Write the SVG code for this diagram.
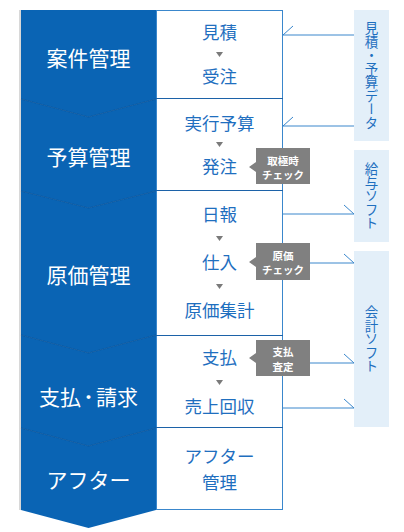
<svg xmlns="http://www.w3.org/2000/svg" width="404" height="532" viewBox="0 0 404 532">
<defs>
<style>
.sec{fill:#0a64b4}
.seam{fill:none;stroke:#08539a;stroke-width:1.2;stroke-opacity:0.8}
.lbl{font-family:"Noto Sans CJK JP","Noto Sans",sans-serif;font-size:21px;fill:#ffffff;text-anchor:middle}
.box{fill:#ffffff;stroke:#3a87cc;stroke-width:1}
.div{stroke:#1c62a8;stroke-width:1.2}
.itm{font-family:"Noto Sans CJK JP","Noto Sans",sans-serif;font-size:17.5px;fill:#1f6fbf;text-anchor:middle}
.tri{fill:#7a7a7a}
.tag{fill:#808080}
.tagt{font-family:"Noto Sans CJK JP","Noto Sans",sans-serif;font-size:10.5px;font-weight:bold;fill:#ffffff;text-anchor:middle}
.ext{fill:#e3eff9}
.extt{font-family:"Noto Sans CJK JP","Noto Sans",sans-serif;font-size:13.5px;fill:#1f6fbf;text-anchor:middle;writing-mode:vertical-rl}
.con{fill:none;stroke:#3a87cc;stroke-width:1}
</style>
</defs>
<rect width="404" height="532" fill="#ffffff"/>
<g id="shadow"><rect x="19" y="10" width="2" height="500" fill="#d8d8d8"/></g>
<g id="stage-anken"><polygon class="sec" points="21,10 156,10 156,99 88.5,117 21,99"/><text class="lbl" x="88.5" y="66">案件管理</text></g>
<g id="stage-yosan"><polygon class="sec" points="21,99 88.5,117 156,99 156,191 88.5,208 21,191"/><text class="lbl" x="88.5" y="165">予算管理</text></g>
<g id="stage-genka"><polygon class="sec" points="21,191 88.5,208 156,191 156,335 88.5,353 21,335"/><text class="lbl" x="88.5" y="283">原価管理</text></g>
<g id="stage-shiharai"><polygon class="sec" points="21,335 88.5,353 156,335 156,428 88.5,446 21,428"/><text class="lbl" x="88.5" y="405">支払<tspan font-size="15" font-weight="bold" dy="-2.5">・</tspan><tspan dy="2.5">請求</tspan></text></g>
<g id="stage-after"><polygon class="sec" points="21,428 88.5,446 156,428 156,510 88.5,528 21,510"/><text class="lbl" x="88.5" y="488">アフター</text></g>
<g id="seams">
<polyline class="seam" points="21,99 88.5,117 156,99"/>
<polyline class="seam" points="21,191 88.5,208 156,191"/>
<polyline class="seam" points="21,335 88.5,353 156,335"/>
<polyline class="seam" points="21,428 88.5,446 156,428"/>
</g>
<g id="connectors">
<path class="con" d="M283,35 H354 M283,35 L293,26"/>
<path class="con" d="M283,126 H354 M283,126 L293,117"/>
<path class="con" d="M283,214 H354 M354,214 L344,205"/>
<path class="con" d="M283,263 H354 M354,263 L344,254"/>
<path class="con" d="M283,363 H354 M354,363 L344,354"/>
<path class="con" d="M283,408 H354 M354,408 L344,399"/>
</g>
<g id="col-mid">
<rect class="box" x="156.5" y="10.5" width="126" height="499"/>
<line class="div" x1="156" y1="98.5" x2="283" y2="98.5"/>
<line class="div" x1="156" y1="190.5" x2="283" y2="190.5"/>
<line class="div" x1="156" y1="335.5" x2="283" y2="335.5"/>
<line class="div" x1="156" y1="427.5" x2="283" y2="427.5"/>
</g>
<g id="box-anken">
<text class="itm" x="219.5" y="39">見積</text>
<polygon class="tri" points="216,52 223,52 219.5,57"/>
<text class="itm" x="219.5" y="83">受注</text>
</g>
<g id="box-yosan">
<text class="itm" x="219.5" y="130">実行予算</text>
<polygon class="tri" points="216,142 223,142 219.5,147"/>
<text class="itm" x="219.5" y="173">発注</text>
</g>
<g id="box-genka">
<text class="itm" x="219.5" y="221">日報</text>
<polygon class="tri" points="216,236 223,236 219.5,241"/>
<text class="itm" x="219.5" y="269">仕入</text>
<polygon class="tri" points="216,284 223,284 219.5,289"/>
<text class="itm" x="219.5" y="317">原価集計</text>
</g>
<g id="box-shiharai">
<text class="itm" x="219.5" y="364">支払</text>
<polygon class="tri" points="216,380 223,380 219.5,385"/>
<text class="itm" x="219.5" y="413">売上回収</text>
</g>
<g id="box-after">
<text class="itm" x="219.5" y="463">アフター</text>
<text class="itm" x="219.5" y="489">管理</text>
</g>
<g id="tag-torikime">
<path class="tag" d="M256,148 H310 V184 H256 V172 L249,167 L256,162 Z"/>
<text class="tagt" x="283" y="165">取極時</text>
<text class="tagt" x="283" y="178.5">チェック</text>
</g>
<g id="tag-genka">
<path class="tag" d="M256,243 H310 V280 H256 V267 L249,262 L256,257 Z"/>
<text class="tagt" x="283" y="259.5">原価</text>
<text class="tagt" x="283" y="274">チェック</text>
</g>
<g id="tag-satei">
<path class="tag" d="M256,340 H310 V376 H256 V363 L249,358 L256,353 Z"/>
<text class="tagt" x="283" y="356">支払</text>
<text class="tagt" x="283" y="370.5">査定</text>
</g>
<g id="ext-data">
<rect class="ext" x="354" y="10" width="35" height="131"/>
<text class="extt" x="371.5" y="75.5">見積・予算データ</text>
</g>
<g id="ext-kyuyo">
<rect class="ext" x="354" y="150" width="35" height="92"/>
<text class="extt" x="371.5" y="196">給与ソフト</text>
</g>
<g id="ext-kaikei">
<rect class="ext" x="354" y="251" width="35" height="176"/>
<text class="extt" x="371.5" y="339">会計ソフト</text>
</g>
</svg>
